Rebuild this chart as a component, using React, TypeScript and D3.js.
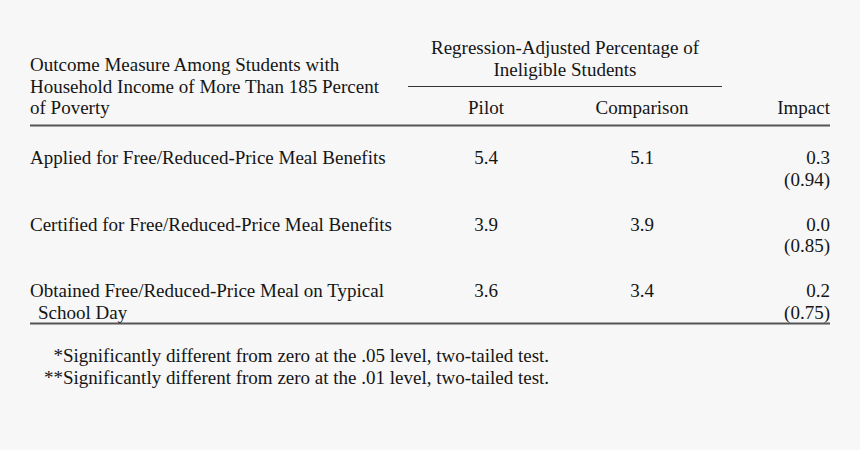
import React from "react";
import * as d3 from "d3";

const headerLeft = [
  "Outcome Measure Among Students with",
  "Household Income of More Than 185 Percent",
  "of Poverty",
];
const spanHeader = ["Regression-Adjusted Percentage of", "Ineligible Students"];
const columns = ["Pilot", "Comparison", "Impact"];
const rowLabels = [
  ["Applied for Free/Reduced-Price Meal Benefits"],
  ["Certified for Free/Reduced-Price Meal Benefits"],
  ["Obtained Free/Reduced-Price Meal on Typical", "School Day"],
];
const pilot = ["5.4", "3.9", "3.6"];
const comparison = ["5.1", "3.9", "3.4"];
const impact = ["0.3", "0.0", "0.2"];
const stdErr = ["(0.94)", "(0.85)", "(0.75)"];
const footnotes = [
  ["*", "Significantly different from zero at the .05 level, two-tailed test."],
  ["**", "Significantly different from zero at the .01 level, two-tailed test."],
];

const W = 860;
const H = 450;
const FONT = "'Liberation Serif', 'Times New Roman', serif";
const FS = 19;
const COLOR = "#151515";

export default function App() {
  const rowY = d3.scalePoint<string>().domain(["0", "1", "2"]).range([164, 297]);
  const colX = d3
    .scaleOrdinal<string, number>()
    .domain(columns)
    .range([486, 642, 830]);
  const lineH = 21.5;

  return (
    <svg
      width={W}
      height={H}
      style={{ position: "absolute", left: 0, top: 0, background: "#f7f7f7" }}
      fontFamily={FONT}
      fontSize={FS}
      fill={COLOR}
    >
      <rect width={W} height={H} fill="#f7f7f7" />
      {headerLeft.map((t, i) => (
        <text key={i} x={30} y={71 + i * lineH}>
          {t}
        </text>
      ))}
      {spanHeader.map((t, i) => (
        <text key={i} x={565} y={54 + i * lineH} textAnchor="middle">
          {t}
        </text>
      ))}
      <line x1={408} x2={722} y1={86.5} y2={86.5} stroke="#333" strokeWidth={1} />
      {columns.map((c) => (
        <text
          key={c}
          x={colX(c)}
          y={114}
          textAnchor={c === "Impact" ? "end" : "middle"}
        >
          {c}
        </text>
      ))}
      <line x1={30} x2={830} y1={125.5} y2={125.5} stroke="#555" strokeWidth={2} />
      {rowLabels.map((lines, r) => {
        const y = rowY(String(r))!;
        return (
          <g key={r}>
            {lines.map((t, i) => (
              <text key={i} x={i === 0 ? 30 : 38} y={y + i * lineH}>
                {t}
              </text>
            ))}
            <text x={colX("Pilot")} y={y} textAnchor="middle">
              {pilot[r]}
            </text>
            <text x={colX("Comparison")} y={y} textAnchor="middle">
              {comparison[r]}
            </text>
            <text x={colX("Impact")} y={y} textAnchor="end">
              {impact[r]}
            </text>
            <text x={colX("Impact")} y={y + lineH} textAnchor="end">
              {stdErr[r]}
            </text>
          </g>
        );
      })}
      <line x1={30} x2={830} y1={323.5} y2={323.5} stroke="#555" strokeWidth={2} />
      {footnotes.map(([star, t], i) => (
        <g key={i}>
          <text x={63} y={362 + i * lineH} textAnchor="end">
            {star}
          </text>
          <text x={63} y={362 + i * lineH}>
            {t}
          </text>
        </g>
      ))}
    </svg>
  );
}
